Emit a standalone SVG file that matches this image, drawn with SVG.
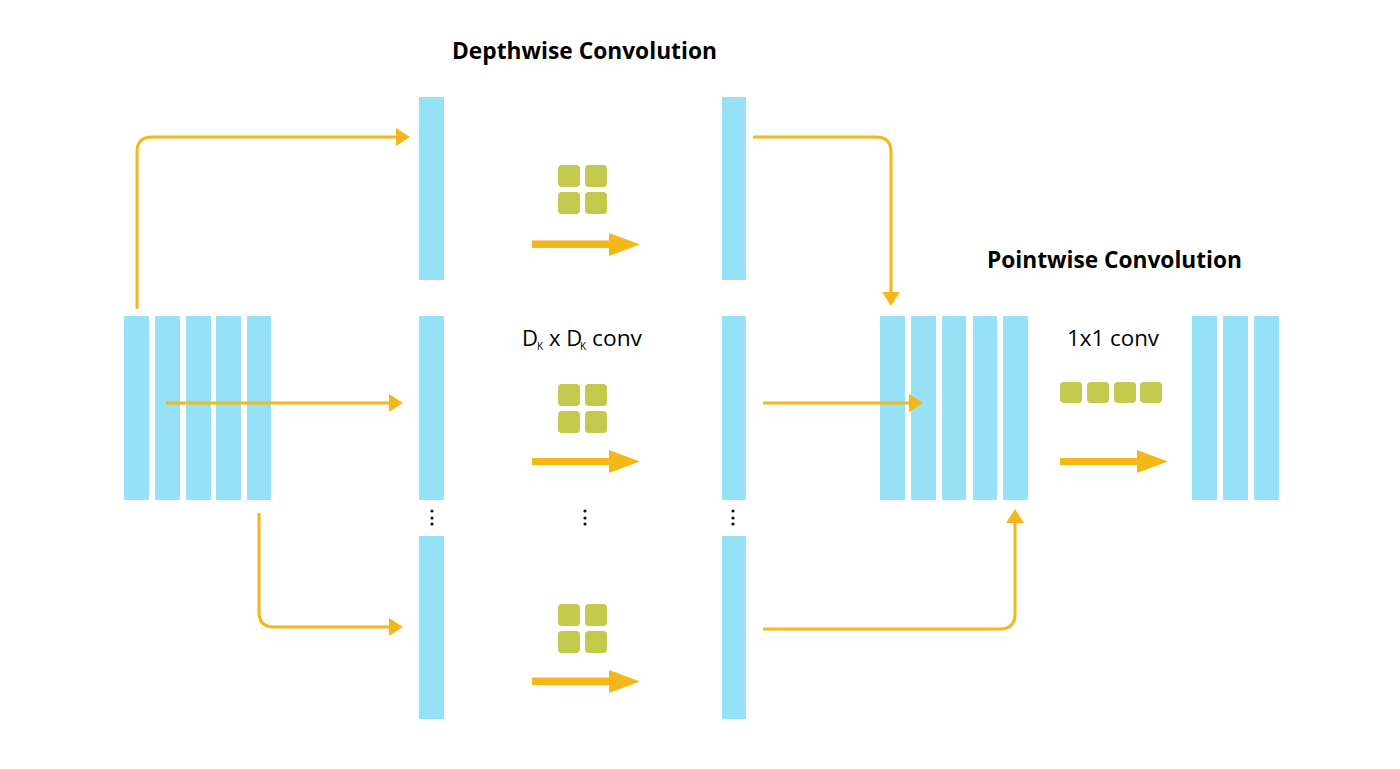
<svg xmlns="http://www.w3.org/2000/svg" width="1400" height="769" viewBox="0 0 1400 769">
<defs>
<style>
.bar{fill:#95E1F5}
.k{fill:#C2C94D}
.conn{fill:none;stroke:#F5B617;stroke-width:3;stroke-linejoin:round}
.big{fill:#F5B617}
.dot{fill:#111}
.title{font-family:"Open Sans","Noto Sans",sans-serif;font-weight:bold;font-size:23px;fill:#000}
.lbl{font-family:"Open Sans","Noto Sans",sans-serif;font-size:22px;fill:#000}
.sub{font-family:"Open Sans","Noto Sans",sans-serif;font-size:10px;fill:#000}
</style>
<marker id="ah" viewBox="0 0 14 18" refX="0" refY="9" markerWidth="14" markerHeight="18" markerUnits="userSpaceOnUse" orient="auto">
<path d="M0,0 L14,9 L0,18 Z" fill="#F5B617"/>
</marker>
</defs>
<rect width="1400" height="769" fill="#fff"/>

<text class="title" x="452" y="59" textLength="265" lengthAdjust="spacingAndGlyphs">Depthwise Convolution</text>
<text class="title" x="987" y="268" textLength="255" lengthAdjust="spacingAndGlyphs">Pointwise Convolution</text>

<g id="input">
<rect class="bar" x="124" y="316" width="25" height="184"/>
<rect class="bar" x="155" y="316" width="25" height="184"/>
<rect class="bar" x="186" y="316" width="25" height="184"/>
<rect class="bar" x="216" y="316" width="25" height="184"/>
<rect class="bar" x="247" y="316" width="24" height="184"/>
</g>

<g id="dw-in">
<rect class="bar" x="419" y="97" width="25" height="183"/>
<rect class="bar" x="419" y="316" width="25" height="184"/>
<rect class="bar" x="419" y="536" width="25" height="183"/>
<circle class="dot" cx="432" cy="511" r="1.6"/>
<circle class="dot" cx="432" cy="518" r="1.6"/>
<circle class="dot" cx="432" cy="524" r="1.6"/>
</g>

<g id="dw-out">
<rect class="bar" x="722" y="97" width="24" height="183"/>
<rect class="bar" x="722" y="316" width="24" height="184"/>
<rect class="bar" x="722" y="536" width="24" height="183"/>
<circle class="dot" cx="733" cy="511" r="1.6"/>
<circle class="dot" cx="733" cy="518" r="1.6"/>
<circle class="dot" cx="733" cy="524" r="1.6"/>
</g>

<g id="dw-kernels">
<rect class="k" x="558" y="165" width="22" height="22" rx="4"/>
<rect class="k" x="585" y="165" width="22" height="22" rx="4"/>
<rect class="k" x="558" y="192" width="22" height="22" rx="4"/>
<rect class="k" x="585" y="192" width="22" height="22" rx="4"/>
<rect class="k" x="558" y="384" width="22" height="22" rx="4"/>
<rect class="k" x="585" y="384" width="22" height="22" rx="4"/>
<rect class="k" x="558" y="411" width="22" height="22" rx="4"/>
<rect class="k" x="585" y="411" width="22" height="22" rx="4"/>
<rect class="k" x="558" y="604" width="22" height="22" rx="4"/>
<rect class="k" x="585" y="604" width="22" height="22" rx="4"/>
<rect class="k" x="558" y="631" width="22" height="22" rx="4"/>
<rect class="k" x="585" y="631" width="22" height="22" rx="4"/>
<circle class="dot" cx="585" cy="511" r="1.6"/>
<circle class="dot" cx="585" cy="518" r="1.6"/>
<circle class="dot" cx="585" cy="524" r="1.6"/>
<text class="lbl" x="522" y="346">D</text>
<text class="sub" x="537" y="350">K</text>
<text class="lbl" x="549" y="346">x D</text>
<text class="sub" x="580" y="350">K</text>
<text class="lbl" x="592" y="346" textLength="50" lengthAdjust="spacingAndGlyphs">conv</text>
<path class="big" d="M532,240.5 H609 V233 L640,244.5 L609,256 V248 H532 Z"/>
<path class="big" d="M532,458 H609 V450 L640,461.5 L609,473 V465 H532 Z"/>
<path class="big" d="M532,677.5 H609 V670 L640,681.5 L609,693 V685 H532 Z"/>
</g>

<g id="pw-in">
<rect class="bar" x="880" y="316" width="25" height="184"/>
<rect class="bar" x="911" y="316" width="25" height="184"/>
<rect class="bar" x="942" y="316" width="24" height="184"/>
<rect class="bar" x="973" y="316" width="24" height="184"/>
<rect class="bar" x="1003" y="316" width="25" height="184"/>
</g>

<g id="pw-kernel">
<text class="lbl" x="1067" y="346" textLength="92" lengthAdjust="spacingAndGlyphs">1x1 conv</text>
<rect class="k" x="1060" y="382" width="22" height="21" rx="4"/>
<rect class="k" x="1087" y="382" width="22" height="21" rx="4"/>
<rect class="k" x="1114" y="382" width="22" height="21" rx="4"/>
<rect class="k" x="1140" y="382" width="22" height="21" rx="4"/>
<path class="big" d="M1060,458 H1137 V450 L1168,461.5 L1137,473 V465 H1060 Z"/>
</g>

<g id="output">
<rect class="bar" x="1192" y="316" width="25" height="184"/>
<rect class="bar" x="1223" y="316" width="25" height="184"/>
<rect class="bar" x="1254" y="316" width="25" height="184"/>
</g>

<g id="connectors">
<path class="conn" marker-end="url(#ah)" d="M137,309 V152 Q137,137 152,137 H396"/>
<path class="conn" marker-end="url(#ah)" d="M166,403 H389"/>
<path class="conn" marker-end="url(#ah)" d="M259,513 V612 Q259,627 274,627 H389"/>
<path class="conn" marker-end="url(#ah)" d="M753,137 H876 Q891,137 891,152 V292"/>
<path class="conn" marker-end="url(#ah)" d="M763,403 H909"/>
<path class="conn" marker-end="url(#ah)" d="M763,629 H1000 Q1015,629 1015,614 V523"/>
</g>
</svg>
